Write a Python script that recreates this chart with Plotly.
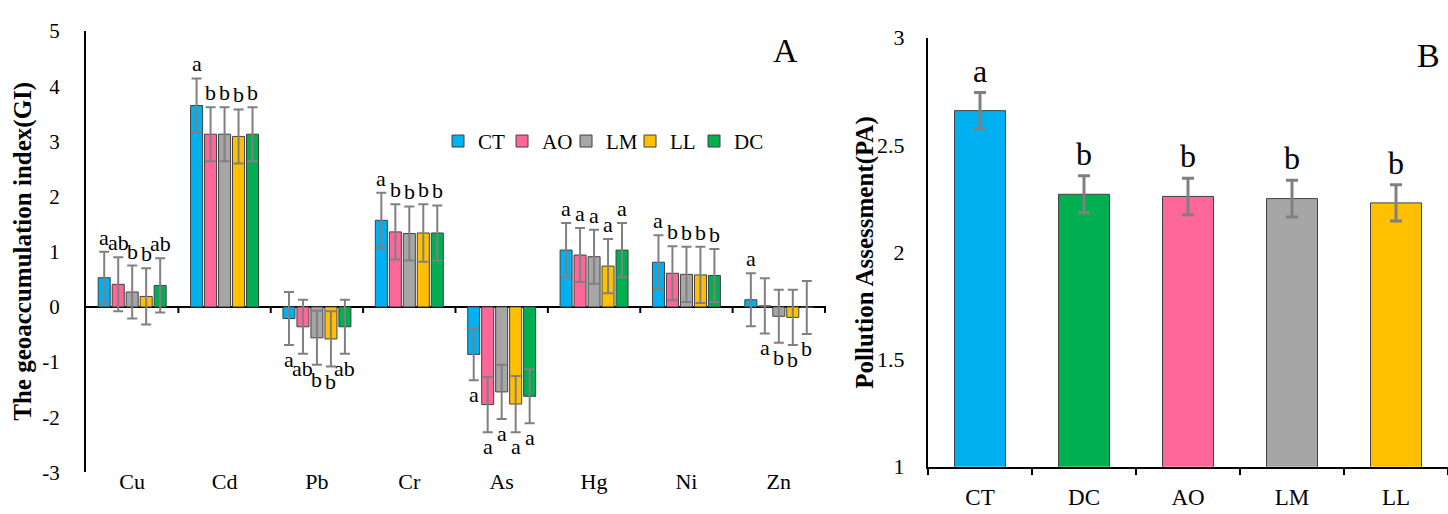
import plotly.graph_objects as go

# ---------------- data ----------------
metals = ['Cu', 'Cd', 'Pb', 'Cr', 'As', 'Hg', 'Ni', 'Zn']
treatments = ['CT', 'AO', 'LM', 'LL', 'DC']

gi_CT = [0.53, 3.65, -0.21, 1.57, -0.86, 1.03, 0.81, 0.13]
gi_AO = [0.41, 3.13, -0.36, 1.36, -1.77, 0.94, 0.61, 0.02]
gi_LM = [0.27, 3.13, -0.56, 1.33, -1.54, 0.91, 0.59, -0.17]
gi_LL = [0.19, 3.09, -0.58, 1.34, -1.76, 0.74, 0.58, -0.19]
gi_DC = [0.39, 3.13, -0.36, 1.34, -1.62, 1.03, 0.57, -0.01]

err_CT = [0.47, 0.49, 0.48, 0.50, 0.47, 0.49, 0.49, 0.48]
err_AO = [0.49, 0.49, 0.49, 0.50, 0.50, 0.49, 0.49, 0.50]
err_LM = [0.48, 0.49, 0.49, 0.49, 0.49, 0.49, 0.50, 0.48]
err_LL = [0.51, 0.49, 0.50, 0.52, 0.51, 0.49, 0.51, 0.50]
err_DC = [0.49, 0.49, 0.49, 0.50, 0.49, 0.49, 0.48, 0.48]

let_CT = ['a', 'a', 'a', 'a', 'a', 'a', 'a', 'a']
let_AO = ['ab', 'b', 'ab', 'b', 'a', 'a', 'b', 'a']
let_LM = ['b', 'b', 'b', 'b', 'a', 'a', 'b', 'b']
let_LL = ['b', 'b', 'b', 'b', 'a', 'a', 'b', 'b']
let_DC = ['ab', 'b', 'ab', 'b', 'a', 'a', 'b', 'b']

gi_ticks = [-3, -2, -1, 0, 1, 2, 3, 4, 5]
gi_ticktext = ['-3', '-2', '-1', '0', '1', '2', '3', '4', '5']

pa_groups = ['CT', 'DC', 'AO', 'LM', 'LL']
pa_values = [2.66, 2.27, 2.26, 2.25, 2.23]
pa_err = [0.084, 0.086, 0.085, 0.086, 0.085]
pa_letters = ['a', 'b', 'b', 'b', 'b']

# ---------------- styles ----------------
colors = {'CT': '#00B0F0', 'AO': '#FF6699', 'LM': '#A6A6A6',
          'LL': '#FFC000', 'DC': '#00B050'}
SERIF = 'Liberation Serif'
W, H = 1448, 514

series = {
    'CT': (gi_CT, err_CT, let_CT),
    'AO': (gi_AO, err_AO, let_AO),
    'LM': (gi_LM, err_LM, let_LM),
    'LL': (gi_LL, err_LL, let_LL),
    'DC': (gi_DC, err_DC, let_DC),
}

fig = go.Figure()

for t in treatments:
    vals, errs, _ = series[t]
    fig.add_trace(go.Bar(
        x=metals, y=vals, name=t,
        marker=dict(color=colors[t], line=dict(color='#404040', width=1)),
        error_y=dict(type='data', array=errs, visible=True,
                     color='#808080', thickness=2, width=5),
        xaxis='x', yaxis='y',
    ))

# empty spacer entry so that the last legend text is not clipped
fig.add_trace(go.Scatter(x=[None], y=[None], mode='markers', name=' ',
                         marker=dict(size=1, color='rgba(0,0,0,0)',
                                     line=dict(width=0)),
                         hoverinfo='skip', xaxis='x', yaxis='y'))

fig.add_trace(go.Bar(
    x=pa_groups, y=pa_values, showlegend=False,
    width=0.49,
    marker=dict(color=[colors[g] for g in pa_groups],
                line=dict(color='#404040', width=1)),
    error_y=dict(type='data', array=pa_err, visible=True,
                 color='#808080', thickness=3, width=6),
    xaxis='x2', yaxis='y2',
))

annotations = []
# significance letters panel A
ntr = len(treatments)
for k, t in enumerate(treatments):
    vals, errs, lets = series[t]
    for i, m in enumerate(metals):
        above = vals[i] >= 0.1
        annotations.append(dict(
            x=i, y=(vals[i] + errs[i]) if above else (vals[i] - errs[i]),
            xref='x', yref='y', text=lets[i], showarrow=False,
            xanchor='center', yanchor='bottom' if above else 'top',
            xshift=(k - (ntr - 1) / 2) * 14.0,
            font=dict(family=SERIF, size=22, color='black'),
        ))
# significance letters panel B
for g, v, e, l in zip(pa_groups, pa_values, pa_err, pa_letters):
    annotations.append(dict(
        x=g, y=v + e, xref='x2', yref='y2', text=l, showarrow=False,
        xanchor='center', yanchor='bottom', yshift=2,
        font=dict(family=SERIF, size=32, color='black'),
    ))

# axis titles and panel labels
annotations += [
    dict(x=23 / W, y=(H - 252) / H, xref='paper', yref='paper',
         text='<b>The geoaccumulation index(GI)</b>', textangle=-90,
         showarrow=False, xanchor='center', yanchor='middle',
         font=dict(family=SERIF, size=25, color='black')),
    dict(x=865 / W, y=(H - 253) / H, xref='paper', yref='paper',
         text='<b>Pollution Assessment(PA)</b>', textangle=-90,
         showarrow=False, xanchor='center', yanchor='middle',
         font=dict(family=SERIF, size=25, color='black')),
    dict(x=785 / W, y=(H - 40) / H, xref='paper', yref='paper', text='A',
         showarrow=False, xanchor='center', yanchor='middle',
         font=dict(family=SERIF, size=34, color='black')),
    dict(x=1428 / W, y=(H - 46) / H, xref='paper', yref='paper', text='B',
         showarrow=False, xanchor='center', yanchor='middle',
         font=dict(family=SERIF, size=34, color='black')),
]

# category-boundary tick marks on the zero line of panel A
shapes = []
for i in range(len(metals)):
    shapes.append(dict(type='line', xref='x', yref='y', x0=i + 0.5, x1=i + 0.5,
                       ysizemode='pixel', yanchor=0, y0=0, y1=-6,
                       line=dict(color='black', width=2)))

fig.update_layout(
    width=W, height=H,
    margin=dict(l=0, r=0, t=0, b=0),
    paper_bgcolor='white', plot_bgcolor='white',
    barmode='group', bargap=0.243, bargroupgap=0.14,
    font=dict(family=SERIF, color='black'),
    showlegend=True,
    legend=dict(orientation='h', x=0.3025, y=(H - 136) / H,
                xanchor='left', yanchor='middle',
                font=dict(family=SERIF, size=21, color='black'),
                bgcolor='rgba(0,0,0,0)', itemwidth=30,
                entrywidth=19, entrywidthmode='pixels',
                traceorder='normal'),
    xaxis=dict(domain=[86 / W, 826 / W], anchor='free',
               position=(H - 477) / H, type='category',
               showline=False, ticks='', showgrid=False, zeroline=False,
               tickfont=dict(family=SERIF, size=22, color='black')),
    yaxis=dict(domain=[(H - 484) / H, (H - 20) / H], range=[-3, 5],
               tickmode='array', tickvals=gi_ticks, ticktext=gi_ticktext,
               anchor='x', showline=True, linecolor='black',
               linewidth=2, ticks='', showgrid=False,
               zeroline=True, zerolinecolor='black', zerolinewidth=2,
               ticklabelstandoff=20,
               tickfont=dict(family=SERIF, size=21, color='black')),
    xaxis2=dict(domain=[928 / W, 1.0], anchor='y2', type='category',
                showline=True, linecolor='black', linewidth=2,
                ticks='outside', tickson='boundaries', ticklen=6,
                tickwidth=2, tickcolor='black', showgrid=False,
                ticklabelstandoff=9,
                tickfont=dict(family=SERIF, size=23, color='black')),
    yaxis2=dict(domain=[(H - 478) / H, (H - 27) / H], range=[1, 3],
                dtick=0.5, anchor='x2', showline=True, linecolor='black',
                linewidth=2, ticks='', showgrid=False, zeroline=False,
                ticklabelstandoff=17,
                tickfont=dict(family=SERIF, size=22, color='black')),
    annotations=annotations,
    shapes=shapes,
)

fig.write_html('out.html')
